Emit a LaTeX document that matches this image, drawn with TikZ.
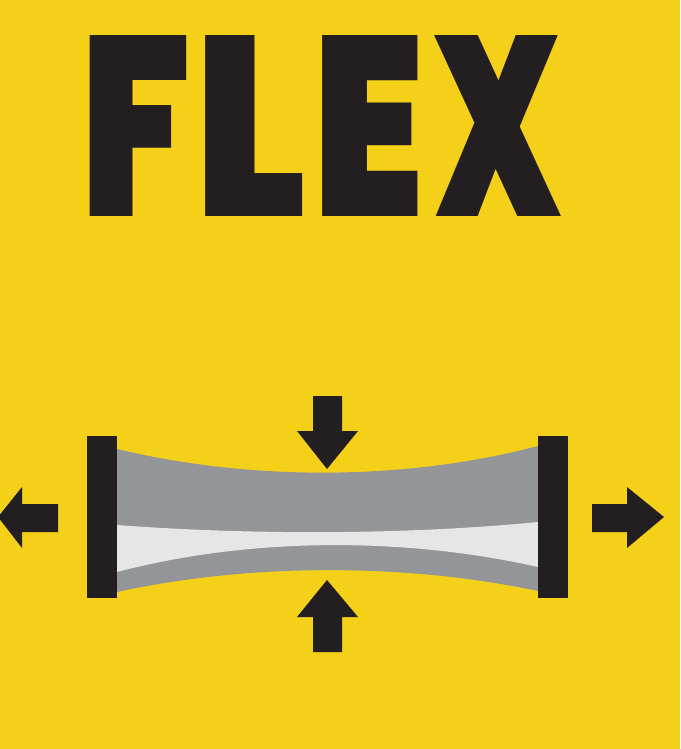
\documentclass[tikz,border=0pt]{standalone}
\usepackage{fontspec}
\setmainfont{Poppins Black}
\definecolor{signyellow}{HTML}{F5D018}
\definecolor{inkblack}{HTML}{231F20}
\definecolor{bandgray}{HTML}{939598}
\definecolor{corewhite}{HTML}{E6E6E6}
\tikzset{
    flexletter/.style={font=\fontsize{145.5}{145.5}\selectfont, text=inkblack, inner sep=0pt, transform shape, xscale=#1},
    inkpart/.style={fill=inkblack}
}
\begin{document}
\begin{tikzpicture}[x=0.02cm, y=-0.02cm]
    % Background
    \clip (0,0) rectangle (680,749);
    \fill[signyellow] (0,0) rectangle (680,749);

    % Title
    \node[flexletter=0.755] (letterF) at (136,126.5) {F};
    \node[flexletter=0.87] (letterL) at (251,126.5) {L};
    \node[flexletter=0.79] (letterE) at (369,126.5) {E};
    \node[flexletter=0.65] (letterX) at (497.5,126.5) {X};

    % Gray band
    \fill[bandgray] (117,449) .. controls (250,481) and (405,481) .. (538,446)
        -- (538,591) .. controls (405,563) and (250,563) .. (117,592) -- cycle;

    % White core
    \fill[corewhite] (117,525) .. controls (250,535) and (405,535) .. (538,522)
        -- (538,567) .. controls (405,537) and (250,537) .. (117,572) -- cycle;

    % End plates
    \fill[inkpart] (87,436) rectangle (117,598);
    \fill[inkpart] (538,436) rectangle (568,598);

    % Squeeze arrows
    \fill[inkpart] (313,396) -- (342,396) -- (342,431) -- (358,431) -- (327,469) -- (297,431) -- (313,431) -- cycle;
    \fill[inkpart] (313,652) -- (342,652) -- (342,617) -- (358,617) -- (327,580) -- (297,617) -- (313,617) -- cycle;

    % Pull arrows
    \fill[inkpart] (58,504) -- (58,532) -- (22,532) -- (22,548) -- (-2,517) -- (22,487) -- (22,504) -- cycle;
    \fill[inkpart] (592,504) -- (592,532) -- (627,532) -- (627,548) -- (664,517) -- (627,487) -- (627,504) -- cycle;
\end{tikzpicture}
\end{document}
